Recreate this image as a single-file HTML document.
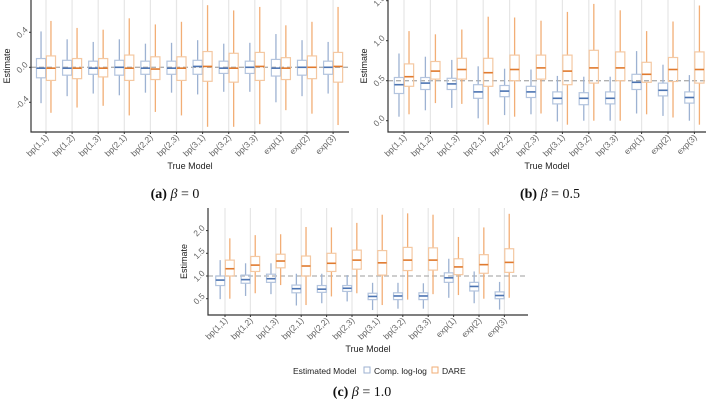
<!DOCTYPE html>
<html><head><meta charset="utf-8"><style>
body{margin:0;background:#fff;}
svg{display:block;font-family:"Liberation Sans",sans-serif;}
</style></head><body>
<svg id="fig" width="709" height="410" viewBox="0 0 709 410"></svg>
<script>
const categories=["bp(1,1)","bp(1,2)","bp(1,3)","bp(2,1)","bp(2,2)","bp(2,3)","bp(3,1)","bp(3,2)","bp(3,3)","exp(1)","exp(2)","exp(3)"];
// each entry: [hi, q3, median, q1, lo]
const aBlue=[[.41,.10,-.01,-.12,-.41],[.32,.08,-.01,-.09,-.33],[.29,.07,-.01,-.08,-.30],[.32,.08,0,-.09,-.32],[.27,.07,-.01,-.08,-.29],[.28,.07,-.01,-.08,-.29],[.31,.08,.01,-.08,-.31],[.27,.07,-.01,-.07,-.28],[.28,.07,0,-.07,-.28],[.38,.09,-.01,-.10,-.40],[.31,.08,0,-.09,-.33],[.29,.07,0,-.08,-.30]];
const aOrange=[[.53,.13,-.01,-.15,-.52],[.45,.10,-.01,-.13,-.46],[.43,.10,-.01,-.11,-.44],[.56,.14,-.01,-.15,-.55],[.49,.12,-.02,-.14,-.51],[.52,.12,-.01,-.15,-.55],[.71,.18,.01,-.16,-.68],[.65,.16,-.01,-.17,-.68],[.69,.17,.01,-.15,-.65],[.48,.11,-.01,-.14,-.49],[.52,.13,0,-.13,-.53],[.69,.17,.01,-.17,-.66]];
const bBlue=[[.84,.54,.45,.34,.05],[.80,.54,.47,.39,.13],[.76,.53,.46,.39,.16],[.68,.45,.36,.28,.03],[.65,.44,.37,.30,.07],[.64,.43,.36,.29,.08],[.56,.36,.28,.21,-.01],[.55,.35,.28,.20,0],[.55,.36,.28,.21,0],[.87,.58,.48,.39,.09],[.70,.47,.38,.31,.06],[.57,.36,.29,.22,0]];
const bOrange=[[1.12,.71,.55,.43,.08],[1.08,.74,.62,.52,.22],[1.14,.78,.64,.52,.21],[1.30,.78,.60,.43,-.05],[1.29,.82,.64,.50,.05],[1.25,.82,.66,.52,.09],[1.36,.82,.62,.45,-.05],[1.46,.88,.66,.47,0],[1.38,.86,.66,.50,0],[1.12,.73,.58,.48,.08],[1.24,.79,.64,.49,.04],[1.44,.86,.64,.47,-.05]];
const cBlue=[[1.35,1.0,.91,.79,.49],[1.28,1.02,.92,.84,.56],[1.28,1.04,.94,.86,.6],[1.05,.80,.72,.63,.35],[1.05,.79,.71,.64,.40],[1.02,.79,.73,.66,.44],[.85,.62,.55,.48,.25],[.85,.63,.56,.48,.28],[.84,.63,.56,.48,.28],[1.38,1.07,.96,.86,.52],[1.10,.86,.77,.67,.40],[.87,.65,.57,.50,.26]];
const cOrange=[[1.83,1.35,1.16,1.0,.5],[1.90,1.43,1.24,1.10,.62],[1.92,1.48,1.33,1.18,.80],[2.08,1.44,1.22,1.0,.36],[2.07,1.50,1.28,1.10,.55],[2.17,1.57,1.35,1.15,.62],[2.35,1.56,1.29,1.02,.36],[2.38,1.63,1.35,1.12,.48],[2.35,1.62,1.35,1.13,.60],[1.86,1.38,1.20,1.03,.58],[2.07,1.47,1.25,1.06,.50],[2.37,1.60,1.30,1.08,.52]];
const aTicks=[-0.4,0.0,0.4], bTicks=[0.0,0.5,1.0,1.5], cTicks=[0.5,1.0,1.5,2.0];
const aRef=0, bRef=0.5, cRef=1.0;

const NS="http://www.w3.org/2000/svg";
const fig=document.getElementById('fig');
function mk(tag,attrs,parent){const e=document.createElementNS(NS,tag);for(const k in attrs)e.setAttribute(k,attrs[k]);(parent||fig).appendChild(e);return e;}

function panel(p){
  const g=mk('g',{});
  
  
  const y=v=>p.y0-(v-p.v0)*p.pxPerUnit;
  const x=i=>p.x0+i*p.step;
  categories.forEach((c,i)=>{const l=mk('line',{x1:x(i),x2:x(i),y1:p.top,y2:p.bottom,stroke:'#e6e6e6','stroke-width':1.2},g);
    });
  const ref=mk('line',{x1:p.left,x2:p.right,y1:y(p.ref),y2:y(p.ref),stroke:'#b0b0b0','stroke-width':1.3,'stroke-dasharray':'5,3'},g);
  
  const bw=p.step*0.35, dod=p.step*0.19;
  function box(d,cx,col){
    const bg=mk('g',{},g);
    
    mk('line',{x1:cx,x2:cx,y1:y(d[0]),y2:y(d[1]),stroke:col.w,'stroke-width':1.3},bg);
    mk('line',{x1:cx,x2:cx,y1:y(d[3]),y2:y(d[4]),stroke:col.w,'stroke-width':1.3},bg);
    mk('rect',{x:cx-bw/2,y:y(d[1]),width:bw,height:y(d[3])-y(d[1]),fill:'none',stroke:col.b,'stroke-width':1.2},bg);
    mk('line',{x1:cx-bw/2,x2:cx+bw/2,y1:y(d[2]),y2:y(d[2]),stroke:col.m,'stroke-width':1.6},bg);
  }
  const blue={w:'#9db2d2',b:'#b3c4de',m:'#4c74b2'}, orng={w:'#f2ae76',b:'#f4c8a2',m:'#e07a2e'};
  p.blue.forEach((d,i)=>box(d,x(i)-dod,blue));
  p.orange.forEach((d,i)=>box(d,x(i)+dod,orng));
  const ax=mk('path',{d:`M${p.left},${p.top} V${p.bottom} H${p.right}`,fill:'none',stroke:'#333','stroke-width':1.2},g);
  
  p.ticks.forEach(t=>{
    mk('line',{x1:p.left-2,x2:p.left,y1:y(t),y2:y(t),stroke:'#333'},g);
    const tx=mk('text',{x:p.left-9,y:y(t)+3,'font-size':8.5,fill:'#666','text-anchor':'middle',transform:`rotate(-45 ${p.left-9} ${y(t)})`},g);
    tx.textContent=t.toFixed(1);
    
  });
  categories.forEach((c,i)=>{
    mk('line',{x1:x(i),x2:x(i),y1:p.bottom,y2:p.bottom+2,stroke:'#333'},g);
    const tx=mk('text',{x:x(i)+3,y:p.bottom+6,'font-size':8.5,fill:'#666','text-anchor':'end',transform:`rotate(-45 ${x(i)+3} ${p.bottom+6})`},g);
    tx.textContent=c;
    
  });
  const yt=mk('text',{x:p.left-21,y:(p.top+p.bottom)/2,'font-size':9,fill:'#222','text-anchor':'middle',transform:`rotate(-90 ${p.left-21} ${(p.top+p.bottom)/2})`},g);
  yt.textContent='Estimate';
  const xt=mk('text',{x:(p.left+p.right)/2,y:p.bottom+37,'font-size':9,fill:'#222','text-anchor':'middle'},g);
  xt.textContent='True Model';
  const cap=mk('text',{x:p.capX,y:p.capY,'font-size':14,fill:'#111','text-anchor':'middle','font-family':'Liberation Serif, serif'},g);
  cap.innerHTML=`<tspan font-weight="bold">(${p.letter})</tspan> <tspan font-style="italic">β</tspan> = ${p.capVal}`;
  
}
panel({name:'panel-a',letter:'a',capVal:'0',blue:aBlue,orange:aOrange,ticks:aTicks,ref:aRef,
  left:31,right:349,top:0,bottom:132,x0:46,step:26.1,y0:67.3,v0:0,pxPerUnit:87.5,capX:175,capY:198});
panel({name:'panel-b',letter:'b',capVal:'0.5',blue:bBlue,orange:bOrange,ticks:bTicks,ref:bRef,
  left:388,right:706,top:0,bottom:132,x0:404,step:26.4,y0:120.7,v0:0,pxPerUnit:80,capX:550,capY:198});
panel({name:'panel-c',letter:'c',capVal:'1.0',blue:cBlue,orange:cOrange,ticks:cTicks,ref:cRef,
  left:208,right:528,top:208,bottom:315,x0:225,step:25.4,y0:276,v0:1,pxPerUnit:45.4,capX:362,capY:396});
// legend
const lg=mk('g',{});

const lt=mk('text',{x:293,y:374,'font-size':8.5,fill:'#222'},lg);lt.textContent='Estimated Model';
const k1=mk('rect',{x:364,y:367,width:6,height:6,fill:'none',stroke:'#9db2d2'},lg);

const t1=mk('text',{x:374,y:374,'font-size':8.5,fill:'#222'},lg);t1.textContent='Comp. log-log';
const k2=mk('rect',{x:432,y:367,width:6,height:6,fill:'none',stroke:'#f2ae76'},lg);

const t2=mk('text',{x:442,y:374,'font-size':8.5,fill:'#222'},lg);t2.textContent='DARE';
</script>
</body></html>
